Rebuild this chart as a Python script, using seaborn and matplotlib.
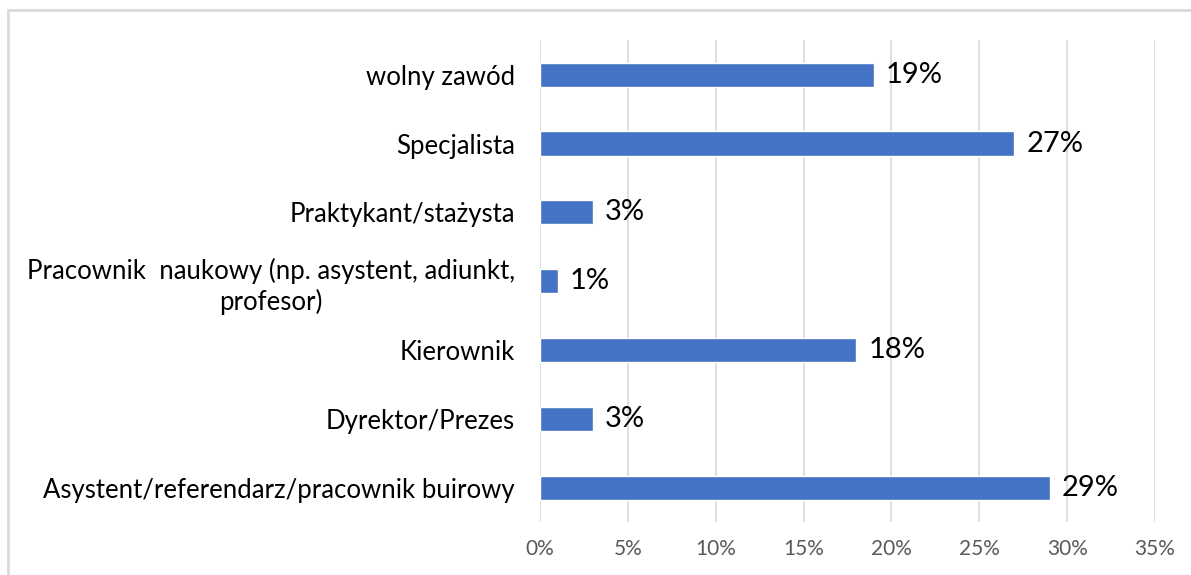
import pandas as pd
import seaborn as sns
import matplotlib.pyplot as plt
from matplotlib.patches import Rectangle
from matplotlib.ticker import FuncFormatter

# Data (top to bottom)
categories = [
    "wolny zawód",
    "Specjalista",
    "Praktykant/stażysta",
    "Pracownik  naukowy (np. asystent, adiunkt,\nprofesor)",
    "Kierownik",
    "Dyrektor/Prezes",
    "Asystent/referendarz/pracownik buirowy",
]
shares = [0.19, 0.27, 0.03, 0.01, 0.18, 0.03, 0.29]
value_labels = ["19%", "27%", "3%", "1%", "18%", "3%", "29%"]
x_ticks = [0, 0.05, 0.10, 0.15, 0.20, 0.25, 0.30, 0.35]

sns.set_style("white")
plt.rcParams['font.family'] = ['Lato', 'DejaVu Sans']

df = pd.DataFrame({"category": categories, "share": shares})

fig = plt.figure(figsize=(11.91, 5.75), dpi=100)
ax = fig.add_axes([0.4534, 0.092, 0.5164, 0.838])

sns.barplot(data=df, x="share", y="category", color="#4472C4",
            width=0.35, saturation=1, ax=ax, zorder=3)

ax.set_xlim(0, 0.35)
ax.set_xticks(x_ticks)
ax.xaxis.set_major_formatter(FuncFormatter(lambda v, p: f"{v * 100:.0f}%"))
ax.grid(axis="x", color="#D9D9D9", linewidth=1.2, zorder=0)
ax.set_xlabel("")
ax.set_ylabel("")
for s in ax.spines.values():
    s.set_visible(False)
ax.tick_params(axis="x", colors="#595959", labelsize=15, length=0, pad=12)
ax.tick_params(axis="y", labelsize=18.5, length=0, pad=18, labelcolor="#000000")
for lbl in ax.get_yticklabels():
    lbl.set_horizontalalignment("right")
    lbl.set_multialignment("center")
    lbl.set_linespacing(1.25)

for i, (v, t) in enumerate(zip(shares, value_labels)):
    ax.text(v + 0.0068, i, t, va="center", ha="left", fontsize=21, color="#000000")

# light frame around the chart area
fig.patches.append(Rectangle((8 / 1191, -0.1), 1.2, 1 - 10 / 575 + 0.1,
                             transform=fig.transFigure, fill=False,
                             edgecolor="#D9D9D9", linewidth=2))

fig.savefig("out.png", dpi=100)
